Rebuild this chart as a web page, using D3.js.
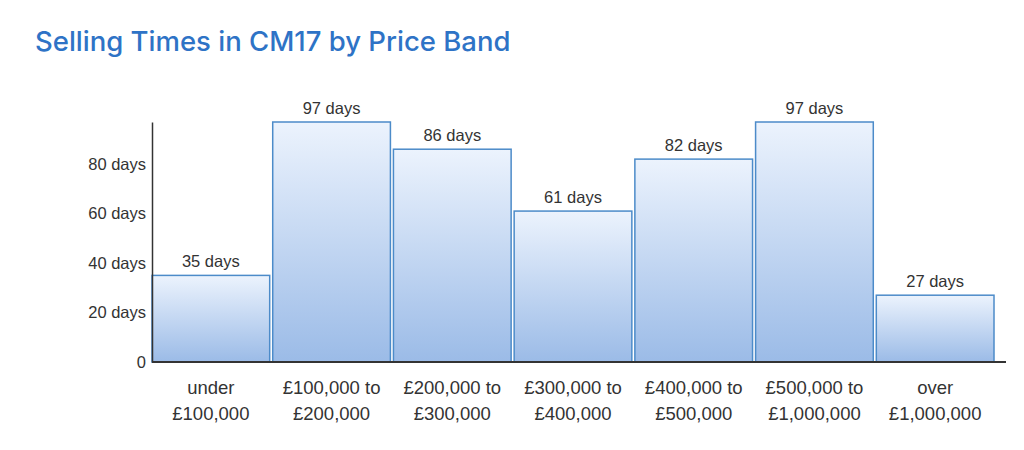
<!DOCTYPE html>
<html>
<head>
<meta charset="utf-8">
<script src="https://cdn.jsdelivr.net/npm/d3@7"></script>
<style>
  body { margin: 0; background: #fff; }
  .title { font-family: Inter, 'Open Sans', sans-serif; font-weight: 500; fill: #2e73c6; }
  .axis text, .val, .xlab { font-family: 'Liberation Sans', Arial, sans-serif; fill: #333; }
</style>
</head>
<body>
<div id="chart"></div>
<script>
// price bands, two lines each
const bandLine1 = ['under', '£100,000 to', '£200,000 to', '£300,000 to', '£400,000 to', '£500,000 to', 'over'];
const bandLine2 = ['£100,000', '£200,000', '£300,000', '£400,000', '£500,000', '£1,000,000', '£1,000,000'];
// days to sell
const days = [35, 97, 86, 61, 82, 97, 27];
const yTicks = [0, 20, 40, 60, 80];

const width = 1024;
const height = 450;
const margin = { top: 122, right: 18, bottom: 88, left: 152 };

const svg = d3.select('#chart')
  .append('svg')
  .attr('width', width)
  .attr('height', height);

// bar gradient
const grad = svg.append('defs')
  .append('linearGradient')
  .attr('id', 'barFill')
  .attr('x1', 0).attr('y1', 0).attr('x2', 0).attr('y2', 1);
grad.append('stop').attr('offset', '0%').attr('stop-color', '#ecf3fd');
grad.append('stop').attr('offset', '100%').attr('stop-color', '#9bbbe7');

svg.append('text')
  .attr('class', 'title')
  .attr('x', 35)
  .attr('y', 51)
  .style('font-size', '27.5px')
  .text('Selling Times in CM17 by Price Band');

const plotBottom = height - margin.bottom;
const bandsRight = 994;

const x = d3.scaleBand()
  .domain(d3.range(days.length))
  .range([margin.left, bandsRight])
  .paddingInner(0.025)
  .paddingOuter(0);

const y = d3.scaleLinear()
  .domain([0, 97])
  .range([plotBottom, margin.top]);

// bars
svg.selectAll('rect.bar')
  .data(days)
  .join('rect')
  .attr('class', 'bar')
  .attr('x', (d, i) => x(i))
  .attr('y', d => y(d))
  .attr('width', x.bandwidth())
  .attr('height', d => plotBottom - y(d))
  .style('fill', 'url(#barFill)')
  .style('stroke', '#4c8bc9')
  .style('stroke-width', 1.5);

// value labels
svg.selectAll('text.val')
  .data(days)
  .join('text')
  .attr('class', 'val')
  .attr('x', (d, i) => x(i) + x.bandwidth() / 2)
  .attr('y', d => y(d) - 8)
  .attr('text-anchor', 'middle')
  .style('font-size', '16.5px')
  .text(d => `${d} days`);

// y axis
const yAxis = d3.axisLeft(y)
  .tickValues(yTicks)
  .tickSize(0)
  .tickPadding(6)
  .tickFormat(d => (d === 0 ? '0' : `${d} days`));

const yg = svg.append('g')
  .attr('class', 'axis')
  .attr('transform', `translate(${margin.left},0)`)
  .call(yAxis);
yg.select('.domain').attr('stroke', '#333').attr('stroke-width', 1.5);
yg.selectAll('text').style('font-size', '16.5px');

// x axis baseline
svg.append('line')
  .attr('x1', margin.left)
  .attr('x2', width - margin.right)
  .attr('y1', plotBottom)
  .attr('y2', plotBottom)
  .attr('stroke', '#333')
  .attr('stroke-width', 2);

// category labels
const xl = svg.selectAll('g.xl')
  .data(days)
  .join('g')
  .attr('class', 'xl')
  .attr('transform', (d, i) => `translate(${x(i) + x.bandwidth() / 2},0)`);

xl.append('text')
  .attr('class', 'xlab')
  .attr('y', plotBottom + 32)
  .attr('text-anchor', 'middle')
  .style('font-size', '18.5px')
  .text((d, i) => bandLine1[i]);

xl.append('text')
  .attr('class', 'xlab')
  .attr('y', plotBottom + 58)
  .attr('text-anchor', 'middle')
  .style('font-size', '18.5px')
  .text((d, i) => bandLine2[i]);
</script>
</body>
</html>
